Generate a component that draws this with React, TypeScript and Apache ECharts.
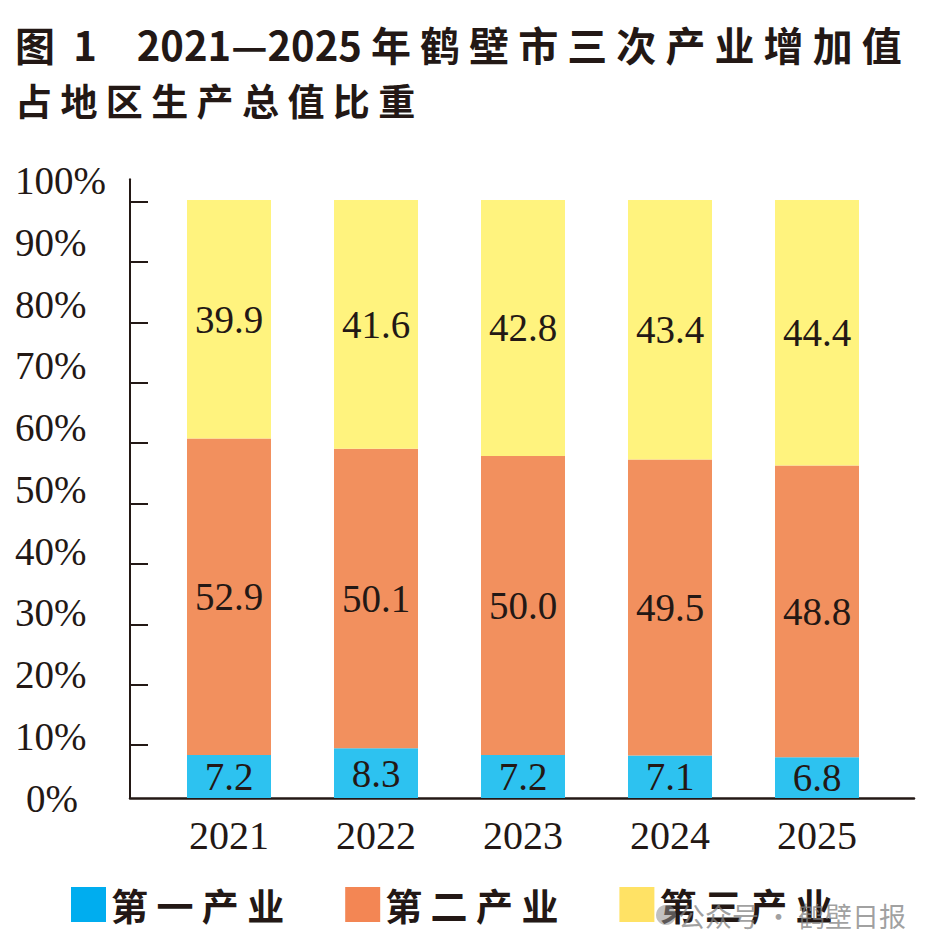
import React, { useEffect, useRef } from 'react';
import * as echarts from 'echarts';

const years = ['2021', '2022', '2023', '2024', '2025'];
const primary = [7.2, 8.3, 7.2, 7.1, 6.8];
const secondary = [52.9, 50.1, 50.0, 49.5, 48.8];
const tertiary = [39.9, 41.6, 42.8, 43.4, 44.4];
const seriesNames = ['第一产业', '第二产业', '第三产业'];
const tickValues = [10, 20, 30, 40, 50, 60, 70, 80, 90, 100];
const labelValues = [0, 10, 20, 30, 40, 50, 60, 70, 80, 90, 100];
const titleLine1 = '图  1\u30002021—2025 年 鹤 壁 市 三 次 产 业 增 加 值';
const titleLine2 = '占 地 区 生 产 总 值 比 重';
const watermark = '公众号 · 鹤壁日报';

const barColors = ['#2DC2F0', '#F2905E', '#FFF37E'];
const legendColors = ['#00ADEF', '#F38654', '#FFE265'];
const ink = '#231815';
const serif = '"Liberation Serif", "Times New Roman", serif';
const cjk = '"Noto Sans CJK SC", sans-serif';

export default function App() {
  const ref = useRef<HTMLDivElement>(null);
  useEffect(() => {
    if (!ref.current) return;
    const chart = echarts.init(ref.current, null, { renderer: 'svg' });
    const barLabel = {
      show: true,
      position: 'inside',
      fontFamily: serif,
      fontSize: 39,
      color: ink,
      formatter: (p: any) => Number(p.value).toFixed(1),
    };
    const dataSets = [primary, secondary, tertiary];
    chart.setOption({
      animation: false,
      backgroundColor: '#ffffff',
      textStyle: { fontFamily: serif },
      title: {
        text: titleLine1,
        subtext: titleLine2,
        left: 15,
        top: 24,
        padding: 0,
        itemGap: 18,
        textStyle: { fontFamily: cjk, fontWeight: 'bold', fontSize: 40, color: ink },
        subtextStyle: { fontFamily: cjk, fontWeight: 'bold', fontSize: 37, color: ink },
      },
      legend: {
        left: 66,
        top: 881,
        icon: 'rect',
        itemWidth: 35,
        itemHeight: 35,
        itemGap: 61,
        data: seriesNames.map((n, i) => ({ name: n, itemStyle: { color: legendColors[i] } })),
        formatter: (n: string) => n.split('').join(' '),
        textStyle: { fontFamily: cjk, fontSize: 37, color: ink, fontWeight: 'bold' },
      },
      grid: [
        { left: 130, right: 20, top: 179.3, bottom: 154 },
        { left: 155.5, width: 735, top: 200, bottom: 154 },
      ],
      xAxis: [
        {
          gridIndex: 0,
          type: 'value',
          min: 0,
          max: 1,
          axisLine: { show: true, lineStyle: { color: ink, width: 2.5 } },
          axisTick: { show: false },
          axisLabel: { show: false },
          splitLine: { show: false },
        },
        {
          gridIndex: 1,
          type: 'category',
          data: years,
          axisLine: { show: false },
          axisTick: { show: false },
          axisLabel: { margin: 17, fontFamily: serif, fontSize: 40, color: ink },
          splitLine: { show: false },
        },
      ],
      yAxis: [
        {
          gridIndex: 0,
          type: 'value',
          position: 'left',
          min: 1.23,
          max: 103.7,
          axisLine: { show: true, lineStyle: { color: ink, width: 2 } },
          axisTick: { show: true, inside: true, length: 18, lineStyle: { color: ink, width: 2 }, customValues: tickValues },
          axisLabel: { show: false },
          splitLine: { show: false },
        },
        {
          gridIndex: 0,
          type: 'value',
          position: 'left',
          offset: 0,
          min: 0,
          max: 100.24,
          axisLine: { show: false },
          axisTick: { show: false },
          axisLabel: {
            show: true,
            customValues: labelValues,
            align: 'left',
            margin: 115,
            fontFamily: serif,
            fontSize: 39,
            color: ink,
            formatter: (v: number) => (v === 0 ? '{z|0%}' : v + '%'),
            rich: { z: { padding: [0, 0, 0, 11], fontFamily: serif, fontSize: 39, color: ink } },
          },
          splitLine: { show: false },
        },
        {
          gridIndex: 1,
          type: 'value',
          min: 0,
          max: 100,
          show: false,
          splitLine: { show: false },
        },
      ],
      series: seriesNames.map((n, i) => ({
        name: n,
        type: 'bar',
        stack: 'total',
        xAxisIndex: 1,
        yAxisIndex: 2,
        barWidth: 84,
        data: dataSets[i],
        itemStyle: { color: barColors[i] },
        label: barLabel,
      })),
      graphic: [
        {
          type: 'circle',
          shape: { cx: 666, cy: 915, r: 10 },
          style: { fill: 'rgba(140,140,140,0.55)' },
          z: 100,
        },
        {
          type: 'text',
          x: 678,
          y: 915,
          z: 100,
          style: {
            text: watermark,
            fontFamily: cjk,
            fontSize: 27,
            fill: 'rgba(130,130,130,0.75)',
            verticalAlign: 'middle',
          },
        },
      ],
    });
    return () => chart.dispose();
  }, []);
  return <div ref={ref} style={{ position: 'fixed', left: 0, top: 0, width: 934, height: 952 }} />;
}
